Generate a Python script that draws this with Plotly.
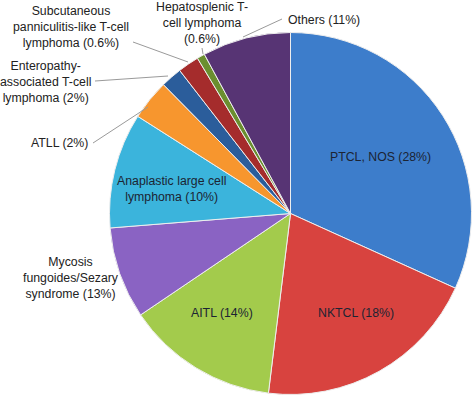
import plotly.graph_objects as go

W, H = 474, 399

# Slice sizes as drawn in the picture
categories = ["PTCL, NOS", "NKTCL", "AITL", "Mycosis fungoides/Sezary syndrome",
              "Anaplastic large cell lymphoma", "ATLL",
              "Enteropathy-associated T-cell lymphoma",
              "Subcutaneous panniculitis-like T-cell lymphoma",
              "Hepatosplenic T-cell lymphoma", "Others"]
values = [31.8, 20.2, 13.6, 8.2, 10.3, 3.6, 1.9, 1.9, 0.7, 7.9]
label_texts = ["PTCL, NOS (28%)", "NKTCL (18%)", "AITL (14%)",
               "Mycosis<br>fungoides/Sezary<br>syndrome (13%)",
               "Anaplastic large cell<br>lymphoma (10%)", "ATLL (2%)",
               "Enteropathy-<br>associated T-cell<br>lymphoma (2%)",
               "Subcutaneous<br>panniculitis-like T-cell<br>lymphoma (0.6%)",
               "Hepatosplenic T-<br>cell lymphoma<br>(0.6%)", "Others (11%)"]
colors = ["#3d7dcb", "#d8433f", "#a3cb4c", "#8a63c3", "#3bb4dc", "#f7962e",
          "#2b5d9b", "#a52c2c", "#6b8f2f", "#573474"]

# label centres (pixels) and leader lines (pixels)
label_pos = [(380, 157), (356, 313), (222, 313), (71, 278), (171, 189),
             (59, 143), (45, 82), (71, 27), (202, 23), (324, 20)]
inside = [True, True, True, False, True, False, False, False, False, False]
leaders = {5: [(93, 143), (148, 107)], 6: [(95, 81), (168, 76)],
           7: [(133, 42), (188, 62)], 8: [(202, 48), (203, 54)],
           9: [(243, 37), (282, 19)]}

cx, cy, r = 290.5, 213.5, 181


def px(x):
    return x / W


def py(y):
    return 1 - y / H


fig = go.Figure(go.Pie(
    labels=categories, values=values, sort=False, direction="clockwise",
    rotation=0, textinfo="none", hoverinfo="label+percent",
    marker=dict(colors=colors, line=dict(color="#eeeeee", width=1)),
    domain=dict(x=[px(cx - r), px(cx + r)], y=[py(cy + r), py(cy - r)]),
    showlegend=False,
))

for i, txt in enumerate(label_texts):
    x, y = label_pos[i]
    fig.add_annotation(x=px(x), y=py(y), xref="paper", yref="paper",
                       text=txt, showarrow=False, xanchor="center",
                       yanchor="middle", align="center", borderpad=0,
                       font=dict(family="Liberation Sans, Arial", size=12.3,
                                 color="#1c2433" if inside[i] else "#222222"))

for i, pts in leaders.items():
    (x0, y0), (x1, y1) = pts
    fig.add_shape(type="line", xref="paper", yref="paper",
                  x0=px(x0), y0=py(y0), x1=px(x1), y1=py(y1),
                  line=dict(color="#9a9a9a", width=1))

fig.update_layout(width=W, height=H, margin=dict(l=0, r=0, t=0, b=0),
                  paper_bgcolor="white", plot_bgcolor="white")
fig.write_html("out.html", config={"displayModeBar": False},
               post_script="document.body.style.margin='0px';")
